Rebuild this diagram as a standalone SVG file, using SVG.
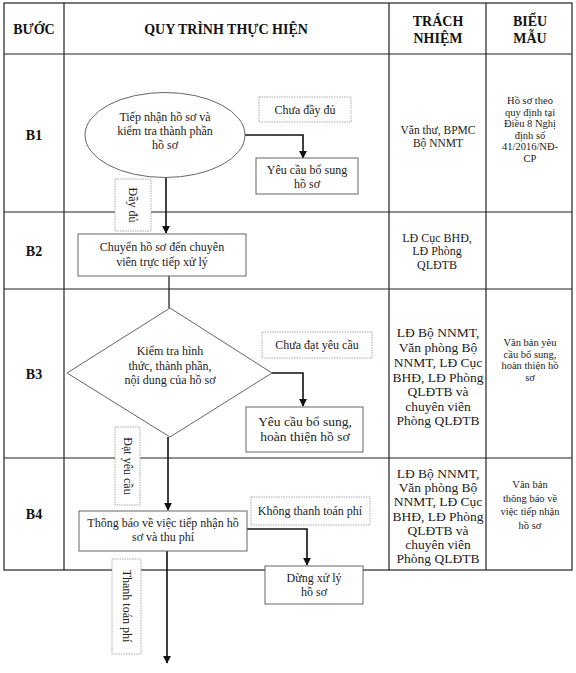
<svg xmlns="http://www.w3.org/2000/svg" width="576" height="673" viewBox="0 0 576 673">
<defs>
<style>
text{font-family:"Liberation Serif","Times New Roman",serif;fill:#222;text-anchor:middle}
.h{font-weight:bold;font-size:14px;fill:#111}
.t{font-size:12px}
.r{font-size:11.5px}
.s{font-size:10.5px}
.b{font-size:13.5px}
.grid{stroke:#222;stroke-width:1.2;fill:none}
.box{fill:#fff;stroke:#666;stroke-width:1}
.lbl{fill:#fff;stroke:#aaa;stroke-width:1;stroke-dasharray:1.5,1}
.c{stroke:#111;stroke-width:1.2;fill:none}
.ca{stroke:#111;stroke-width:1.6;fill:none;marker-end:url(#ah)}
</style>
<marker id="ah" viewBox="0 0 10 10" refX="9" refY="5" markerWidth="5" markerHeight="5" orient="auto" markerUnits="strokeWidth">
<path d="M0,0 L10,5 L0,10 z" fill="#111"/>
</marker>
</defs>
<rect width="576" height="673" fill="#fff"/>
<g id="table">
<rect class="grid" x="4" y="3" width="568" height="567"/>
<line class="grid" x1="64" y1="3" x2="64" y2="570"/>
<line class="grid" x1="389" y1="3" x2="389" y2="570"/>
<line class="grid" x1="486" y1="3" x2="486" y2="570"/>
<line class="grid" x1="4" y1="54" x2="572" y2="54"/>
<line class="grid" x1="4" y1="212" x2="572" y2="212"/>
<line class="grid" x1="4" y1="289" x2="572" y2="289"/>
<line class="grid" x1="4" y1="458" x2="572" y2="458"/>
<text class="h" x="34" y="34">BƯỚC</text>
<text class="h" x="226" y="34">QUY TRÌNH THỰC HIỆN</text>
<text class="h" x="438" y="26">TRÁCH</text>
<text class="h" x="438" y="43">NHIỆM</text>
<text class="h" x="530" y="26">BIỂU</text>
<text class="h" x="530" y="43">MẪU</text>
<text class="h" x="34" y="140">B1</text>
<text class="h" x="34" y="256">B2</text>
<text class="h" x="34" y="379">B3</text>
<text class="h" x="34" y="519">B4</text>
</g>
<g id="resp">
<text class="r" x="438" y="134">Văn thư, BPMC</text>
<text class="r" x="438" y="147">Bộ NNMT</text>
<text class="t" x="437" y="242">LĐ Cục BHĐ,</text>
<text class="t" x="437" y="255">LĐ Phòng</text>
<text class="t" x="437" y="269">QLĐTB</text>
<text class="b" x="438" y="337">LĐ Bộ NNMT,</text>
<text class="b" x="438" y="352">Văn phòng Bộ</text>
<text class="b" x="438" y="367">NNMT, LĐ Cục</text>
<text class="b" x="438" y="382">BHĐ, LĐ Phòng</text>
<text class="b" x="438" y="396">QLĐTB và</text>
<text class="b" x="438" y="411">chuyên viên</text>
<text class="b" x="438" y="425">Phòng QLĐTB</text>
<text class="b" x="438" y="478">LĐ Bộ NNMT,</text>
<text class="b" x="438" y="492">Văn phòng Bộ</text>
<text class="b" x="438" y="506">NNMT, LĐ Cục</text>
<text class="b" x="438" y="521">BHĐ, LĐ Phòng</text>
<text class="b" x="438" y="535">QLĐTB và</text>
<text class="b" x="438" y="549">chuyên viên</text>
<text class="b" x="438" y="563">Phòng QLĐTB</text>
</g>
<g id="forms">
<text class="s" x="530" y="104">Hồ sơ theo</text>
<text class="s" x="530" y="115.5">quy định tại</text>
<text class="s" x="530" y="127">Điều 8 Nghị</text>
<text class="s" x="530" y="138.5">định số</text>
<text class="s" x="530" y="150">41/2016/NĐ-</text>
<text class="s" x="530" y="161.5">CP</text>
<text class="s" x="530" y="346">Văn bản yêu</text>
<text class="s" x="530" y="357.5">cầu bổ sung,</text>
<text class="s" x="530" y="369">hoàn thiện hồ</text>
<text class="s" x="530" y="380.5">sơ</text>
<text class="s" x="530" y="488">Văn bản</text>
<text class="s" x="530" y="501.5">thông báo về</text>
<text class="s" x="530" y="515">việc tiếp nhận</text>
<text class="s" x="530" y="528.5">hồ sơ</text>
</g>
<g id="connectors">
<polyline class="ca" points="245,135 303,135 303,158"/>
<line class="ca" x1="166" y1="177" x2="166" y2="233"/>
<line class="c" x1="169" y1="276" x2="169" y2="308"/>
<polyline class="ca" points="272,373 303,373 303,406"/>
<line class="ca" x1="168" y1="437" x2="168" y2="510"/>
<polyline class="ca" points="247,529 307,529 307,565"/>
<line class="ca" x1="167" y1="551" x2="167" y2="663"/>
</g>
<g id="n-b1-check">
<ellipse class="box" cx="165" cy="135" rx="80" ry="42.5"/>
<text class="t" x="165" y="121">Tiếp nhận hồ sơ và</text>
<text class="t" x="165" y="135">kiểm tra thành phần</text>
<text class="t" x="165" y="149">hồ sơ</text>
</g>
<g id="l-chua-day-du">
<rect class="lbl" x="259" y="97" width="92" height="25"/>
<text class="t" x="305" y="114">Chưa đầy đủ</text>
</g>
<g id="n-b1-request">
<rect class="box" x="256" y="158" width="102" height="36"/>
<text class="t" x="307" y="174">Yêu cầu bổ sung</text>
<text class="t" x="307" y="188">hồ sơ</text>
</g>
<g id="l-day-du">
<rect class="lbl" x="115" y="179" width="36" height="52"/>
<text class="t" transform="translate(133,205) rotate(90)" y="4">Đầy đủ</text>
</g>
<g id="n-b2">
<rect class="box" x="78" y="234" width="168" height="42"/>
<text class="t" x="162" y="251">Chuyển hồ sơ đến chuyên</text>
<text class="t" x="162" y="266">viên trực tiếp xử lý</text>
</g>
<g id="n-b3-check">
<polygon class="box" points="170,308 272,373 170,437 67,373"/>
<text class="t" x="170" y="355">Kiểm tra hình</text>
<text class="t" x="170" y="370">thức, thành  phần,</text>
<text class="t" x="170" y="384">nội dung của hồ sơ</text>
</g>
<g id="l-chua-dat">
<rect class="lbl" x="262" y="332" width="110" height="26"/>
<text class="t" x="317" y="349">Chưa đạt yêu cầu</text>
</g>
<g id="n-b3-request">
<rect class="box" x="246" y="407" width="117" height="45"/>
<text class="b" x="305" y="426">Yêu cầu bổ sung,</text>
<text class="b" x="305" y="441">hoàn thiện hồ sơ</text>
</g>
<g id="l-dat">
<rect class="lbl" x="115" y="427" width="25" height="78"/>
<text class="t" transform="translate(127.5,466) rotate(90)" y="4">Đạt yêu cầu</text>
</g>
<g id="n-b4">
<rect class="box" x="79" y="511" width="168" height="40"/>
<text class="t" x="163" y="527">Thông báo về việc tiếp nhận hồ</text>
<text class="t" x="163" y="541">sơ và thu phí</text>
</g>
<g id="l-khong">
<rect class="lbl" x="251" y="497" width="119" height="28"/>
<text class="t" x="310" y="515">Không thanh toán phí</text>
</g>
<g id="n-stop">
<rect class="box" x="265" y="566" width="98" height="38"/>
<text class="t" x="314" y="582">Dừng xử lý</text>
<text class="t" x="314" y="596">hồ sơ</text>
</g>
<g id="l-thanh-toan">
<rect class="lbl" x="112" y="559" width="29" height="95"/>
<text class="t" transform="translate(126.5,606) rotate(90)" y="4">Thanh toán phí</text>
</g>
</svg>
